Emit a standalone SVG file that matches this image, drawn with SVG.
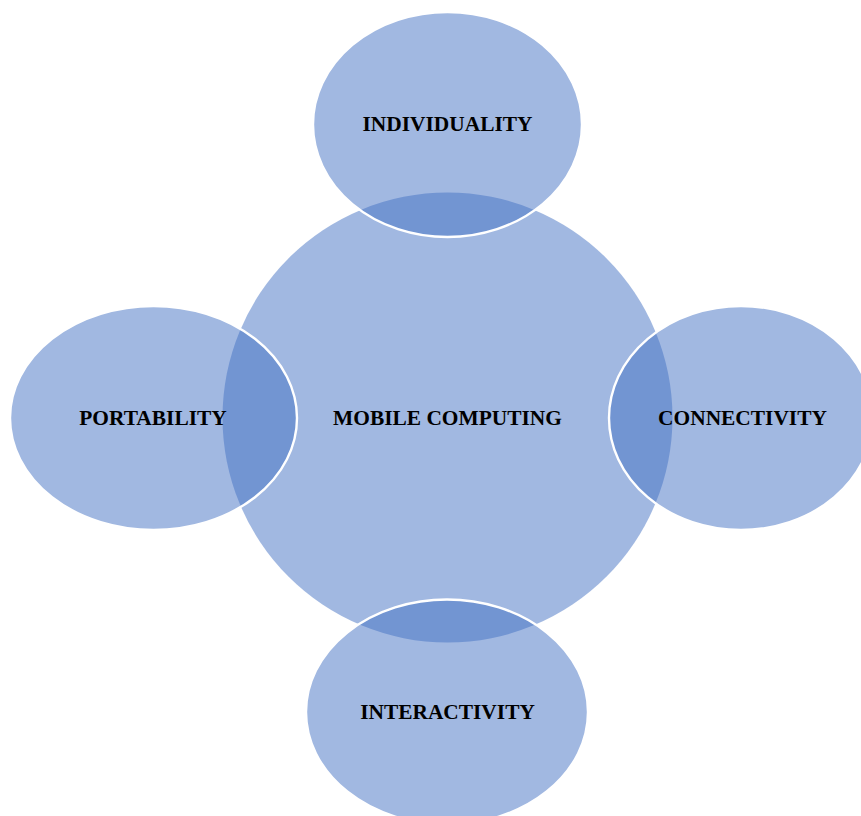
<svg xmlns="http://www.w3.org/2000/svg" width="861" height="816" viewBox="0 0 861 816">
  <style>
    .bubble { fill: #4472C4; fill-opacity: 0.5; }
    .sat { stroke: #FFFFFF; stroke-width: 2.4; }
    .label { font-family: "Liberation Serif", "Times New Roman", serif; font-weight: bold; font-size: 21.4px; fill: #000000; text-anchor: middle; }
  </style>
  <rect width="861" height="816" fill="#FFFFFF"/>
  <g id="mobile-computing">
    <circle class="bubble" cx="447.5" cy="417.5" r="225"/>
    <text class="label" x="447.5" y="425">MOBILE COMPUTING</text>
  </g>
  <g id="individuality">
    <ellipse class="bubble sat" cx="447.5" cy="124.5" rx="134.5" ry="112.5"/>
    <text class="label" x="447.5" y="131">INDIVIDUALITY</text>
  </g>
  <g id="portability">
    <ellipse class="bubble sat" cx="153.5" cy="418" rx="143.5" ry="112"/>
    <text class="label" x="153" y="425">PORTABILITY</text>
  </g>
  <g id="connectivity">
    <ellipse class="bubble sat" cx="741" cy="418" rx="132" ry="112"/>
    <text class="label" x="742.5" y="425">CONNECTIVITY</text>
  </g>
  <g id="interactivity">
    <ellipse class="bubble sat" cx="447" cy="712" rx="141" ry="112.5"/>
    <text class="label" x="447.5" y="719">INTERACTIVITY</text>
  </g>
  <g id="connectors"/>
</svg>
